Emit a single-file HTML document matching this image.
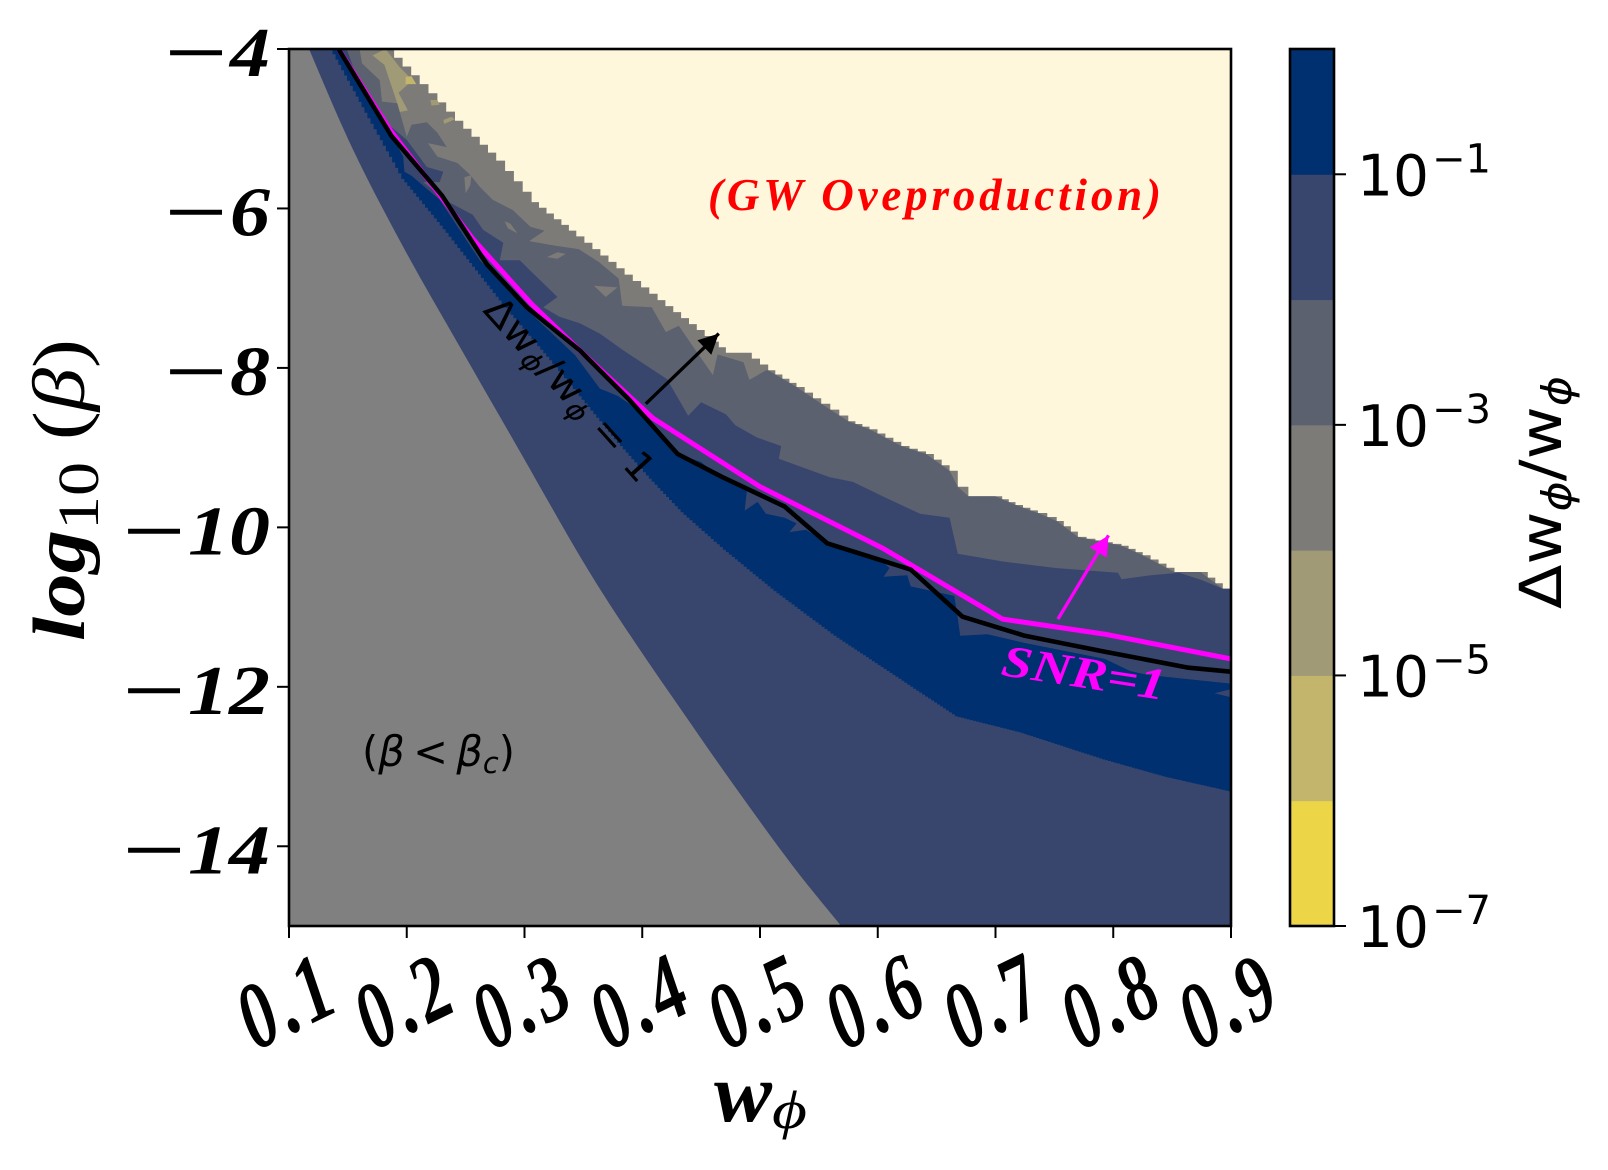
<!DOCTYPE html>
<html lang="en">
<head>
<meta charset="utf-8">
<title>Delta w over w contour chart</title>
<style>
html,body{margin:0;padding:0;background:#fff;}
svg{display:block;}
.cm{font-family:"Liberation Serif",serif;font-style:italic;font-weight:bold;}
.dv{font-family:"DejaVu Sans",sans-serif;}
</style>
</head>
<body>
<svg id="chart" xmlns="http://www.w3.org/2000/svg" width="1608" height="1170" viewBox="0 0 1608 1170">
  <defs><clipPath id="plot-clip"><rect x="289" y="49" width="942" height="877"></rect></clipPath></defs>
  <g id="plot" clip-path="url(#plot-clip)"></g>
  <g id="axes"></g>
  <g id="cbar"></g>

  <text transform="translate(84,641) rotate(-90)" font-size="74" textLength="302" lengthAdjust="spacingAndGlyphs" font-family="Liberation Serif, serif"><tspan font-style="italic" font-weight="bold">log</tspan><tspan font-size="58" dy="14">10</tspan><tspan dy="-14"> (</tspan><tspan font-style="italic">β</tspan><tspan>)</tspan></text>

  <text x="714" y="1121" font-size="84" class="cm" textLength="58" lengthAdjust="spacingAndGlyphs">w</text>
  <text x="772" y="1128" font-size="54" font-style="italic" font-family="Liberation Serif, serif" textLength="35" lengthAdjust="spacingAndGlyphs">ϕ</text>

  <text x="708" y="210" font-size="45" fill="#ff0000" class="cm" textLength="453" lengthAdjust="spacing">(GW Oveproduction)</text>
  <text x="362" y="766" font-size="42" class="dv" fill="#000" textLength="153" lengthAdjust="spacingAndGlyphs">(<tspan font-style="italic">β</tspan>&#8201;&lt;&#8201;<tspan font-style="italic">β</tspan><tspan font-style="italic" font-size="29" dy="7">c</tspan><tspan dy="-7">)</tspan></text>
  <text transform="translate(1000,675) rotate(8.7)" font-size="45" fill="#ff00ff" class="cm" textLength="165" lengthAdjust="spacingAndGlyphs">SNR=1</text>
  <text transform="translate(482,311) rotate(48)" font-size="38" class="dv" fill="#000" textLength="234" lengthAdjust="spacingAndGlyphs">Δw<tspan font-style="italic" font-size="27" dy="6">ϕ</tspan><tspan dy="-6">/w</tspan><tspan font-style="italic" font-size="27" dy="6">ϕ</tspan><tspan dy="-6"> = 1</tspan></text>
  <text transform="translate(1561,609) rotate(-90)" font-size="58" class="dv" fill="#000" textLength="233" lengthAdjust="spacingAndGlyphs">Δw<tspan font-style="italic" font-size="41" dy="10">ϕ</tspan><tspan dy="-10">/w</tspan><tspan font-style="italic" font-size="41" dy="10">ϕ</tspan></text>
</svg>

<script>
// ---- axis data ----
const xTicks = [0.1, 0.2, 0.3, 0.4, 0.5, 0.6, 0.7, 0.8, 0.9];
const xTickLabels = ["0.1", "0.2", "0.3", "0.4", "0.5", "0.6", "0.7", "0.8", "0.9"];
const yTicks = [-4, -6, -8, -10, -12, -14];
const yTickLabels = ["−4", "−6", "−8", "−10", "−12", "−14"];
const cbarExponents = [-7, -6, -5, -4, -3, -2, -1, 0];
const cbarColors = ["#ecd648", "#c4b56c", "#a19a76", "#7c7b78", "#5c6170", "#38466e", "#00306f"];
const cbarTicks = [-7, -5, -3, -1];

// ---- contour edges: [w, log10 beta] ----
const gwEdge = [[0.182,-4],[0.211,-4.44],[0.241,-4.9],[0.276,-5.4],[0.306,-5.92],[0.344,-6.35],[0.385,-6.83],[0.413,-7.15],[0.453,-7.6],[0.471,-7.81],[0.486,-7.81],[0.507,-8.03],[0.531,-8.24],[0.552,-8.45],[0.575,-8.67],[0.593,-8.77],[0.62,-8.98],[0.641,-9.08],[0.661,-9.29],[0.668,-9.49],[0.677,-9.61],[0.7,-9.61],[0.717,-9.72],[0.736,-9.82],[0.752,-9.92],[0.77,-10.12],[0.807,-10.23],[0.825,-10.35],[0.852,-10.56],[0.874,-10.56],[0.893,-10.77],[0.9,-10.77]];
const level3Edge = [[0.16,-4],[0.162,-4.18],[0.177,-4.39],[0.179,-4.66],[0.192,-4.68],[0.196,-4.89],[0.2,-5.1],[0.204,-4.95],[0.217,-4.92],[0.226,-5.05],[0.234,-5.23],[0.218,-5.18],[0.226,-5.35],[0.243,-5.43],[0.254,-5.58],[0.262,-5.73],[0.273,-5.89],[0.29,-6.02],[0.305,-6.23],[0.317,-6.28],[0.304,-6.41],[0.327,-6.47],[0.346,-6.51],[0.363,-6.67],[0.38,-6.88],[0.383,-7.22],[0.408,-7.24],[0.42,-7.55],[0.431,-7.47],[0.443,-7.73],[0.46,-8.09],[0.464,-7.83],[0.486,-7.93],[0.491,-8.15],[0.505,-8.03]];
const level2Edge = [[0.149,-4],[0.156,-4.29],[0.166,-4.55],[0.183,-4.93],[0.2,-5.14],[0.217,-5.48],[0.231,-5.54],[0.228,-5.67],[0.214,-5.67],[0.237,-5.93],[0.256,-6.08],[0.265,-6.27],[0.282,-6.43],[0.279,-6.65],[0.296,-6.65],[0.307,-6.81],[0.328,-7.11],[0.316,-7.24],[0.33,-7.36],[0.347,-7.44],[0.364,-7.57],[0.384,-7.78],[0.421,-8.14],[0.439,-8.6],[0.45,-8.43],[0.471,-8.58],[0.479,-8.72],[0.497,-8.87],[0.518,-8.98],[0.516,-9.14],[0.559,-9.37],[0.579,-9.43],[0.607,-9.63],[0.636,-9.83],[0.661,-9.88],[0.668,-10.33],[0.707,-10.43],[0.751,-10.51],[0.804,-10.57],[0.807,-10.65],[0.832,-10.6],[0.856,-10.57],[0.875,-10.66],[0.893,-10.77],[0.9,-10.77]];
const level1Edge = [[0.143,-4],[0.185,-5.02],[0.197,-5.35],[0.198,-5.54],[0.204,-5.59],[0.228,-5.89],[0.262,-6.65],[0.302,-7.27],[0.343,-7.84],[0.364,-8.26],[0.379,-8.35],[0.389,-8.45],[0.407,-8.67],[0.43,-9.08],[0.45,-9.18],[0.459,-9.29],[0.489,-9.52],[0.487,-9.79],[0.498,-9.68],[0.505,-9.83],[0.521,-9.88],[0.531,-9.95],[0.525,-10.06],[0.539,-10.03],[0.557,-10.2],[0.604,-10.43],[0.61,-10.51],[0.605,-10.62],[0.625,-10.6],[0.628,-10.74],[0.665,-10.86],[0.668,-11.14],[0.67,-11.36],[0.693,-11.34],[0.725,-11.45],[0.793,-11.65],[0.814,-11.8],[0.829,-11.85],[0.9,-11.96]];
const navyLowerEdge = [[0.137,-4],[0.164,-4.73],[0.198,-5.63],[0.233,-6.26],[0.268,-6.92],[0.283,-7.2],[0.321,-7.86],[0.381,-8.94],[0.408,-9.39],[0.435,-9.81],[0.471,-10.28],[0.514,-10.8],[0.565,-11.36],[0.615,-11.85],[0.668,-12.37],[0.722,-12.57],[0.793,-12.91],[0.846,-13.13],[0.9,-13.31]];
const criticalEdge = [[0.117,-4],[0.154,-5.25],[0.198,-6.51],[0.246,-7.76],[0.295,-9.02],[0.349,-10.41],[0.39,-11.36],[0.435,-12.33],[0.48,-13.28],[0.528,-14.25],[0.569,-15]];

// ---- small contour islands ----
const tanPatchA = [[0.171,-4.08],[0.182,-4],[0.194,-4.23],[0.205,-4.39],[0.193,-4.55],[0.201,-4.77],[0.194,-4.79],[0.191,-4.64],[0.184,-4.33],[0.181,-4.2]];
const tanPatchB = [[0.22,-4.64],[0.226,-4.64],[0.228,-4.7],[0.221,-4.71]];
const tanPatchC = [[0.231,-4.89],[0.238,-4.85],[0.241,-4.88],[0.232,-4.94]];
const khakiPatch = [[0.199,-4.35],[0.204,-4.34],[0.208,-4.44],[0.199,-4.44]];
const greyIslandA = [[0.319,-6.61],[0.328,-6.55],[0.335,-6.57],[0.328,-6.63]];
const greyIslandB = [[0.249,-5.61],[0.255,-5.58],[0.254,-5.71],[0.25,-5.81]];
const greyIslandC = [[0.283,-6.16],[0.288,-6.19],[0.294,-6.31],[0.286,-6.25]];
const greyIslandD = [[0.359,-6.97],[0.379,-6.99],[0.369,-7.11]];
const navyIsland = [[0.886,-12.08],[0.9,-12.03],[0.9,-12.13]];

// ---- lines ----
const deltaWLine = [[0.142,-4],[0.187,-5.09],[0.23,-5.84],[0.268,-6.7],[0.302,-7.24],[0.347,-7.78],[0.389,-8.4],[0.43,-9.08],[0.468,-9.37],[0.521,-9.74],[0.557,-10.2],[0.628,-10.53],[0.672,-11.12],[0.725,-11.36],[0.793,-11.56],[0.864,-11.76],[0.9,-11.81]];
const snrLine = [[0.142,-4],[0.186,-5.02],[0.228,-5.83],[0.256,-6.38],[0.306,-7.2],[0.347,-7.78],[0.409,-8.63],[0.5,-9.49],[0.604,-10.26],[0.706,-11.15],[0.793,-11.34],[0.9,-11.65]];
const blackArrow = [[0.403,-8.45],[0.465,-7.57]];
const magentaArrow = [[0.753,-11.15],[0.796,-10.1]];

// ---- scales ----
const PL = 289, PR = 1231, PT = 49, PB = 926;
const CL = 1290, CR = 1334;
function x(w) { return PL + (w - 0.1) / 0.8 * (PR - PL); }
function y(b) { return PT + (-4 - b) / 11 * (PB - PT); }
function cy(e) { return PT + (0 - e) / 7 * (PB - PT); }

const NS = 'http://www.w3.org/2000/svg';
function mk(tag, attrs, parent) {
  const n = document.createElementNS(NS, tag);
  for (const k in attrs) n.setAttribute(k, attrs[k]);
  parent.appendChild(n);
  return n;
}
function line(pts) {
  return pts.map(function (p, i) { return (i ? 'L' : 'M') + x(p[0]).toFixed(1) + ' ' + y(p[1]).toFixed(1); }).join(' ');
}
function smooth(pts) {
  const q = pts.map(function (p) { return [x(p[0]), y(p[1])]; });
  let d = 'M' + q[0][0].toFixed(1) + ' ' + q[0][1].toFixed(1);
  for (let i = 0; i < q.length - 1; i++) {
    const a = q[Math.max(0, i - 1)], b = q[i], c = q[i + 1], e = q[Math.min(q.length - 1, i + 2)];
    d += ' C' + (b[0] + (c[0] - a[0]) / 6).toFixed(1) + ' ' + (b[1] + (c[1] - a[1]) / 6).toFixed(1) + ' ' +
         (c[0] - (e[0] - b[0]) / 6).toFixed(1) + ' ' + (c[1] - (e[1] - b[1]) / 6).toFixed(1) + ' ' +
         c[0].toFixed(1) + ' ' + c[1].toFixed(1);
  }
  return d;
}
function stair(pts, stepPx) {
  let d = 'M' + x(pts[0][0]).toFixed(1) + ' ' + y(pts[0][1]).toFixed(1);
  for (let i = 1; i < pts.length; i++) {
    const x0 = x(pts[i - 1][0]), y0 = y(pts[i - 1][1]), x1 = x(pts[i][0]), y1 = y(pts[i][1]);
    const n = Math.max(1, Math.round((x1 - x0) / stepPx));
    for (let j = 1; j <= n; j++) {
      d += ' L' + (x0 + (x1 - x0) * j / n).toFixed(1) + ' ' + (y0 + (y1 - y0) * (j - 1) / n).toFixed(1);
      d += ' L' + (x0 + (x1 - x0) * j / n).toFixed(1) + ' ' + (y0 + (y1 - y0) * j / n).toFixed(1);
    }
  }
  return d;
}
function tail(edge, afterW) {
  return edge.filter(function (p) { return p[0] > afterW; });
}
function cont(pts) {
  return pts.map(function (p) { return ' L' + x(p[0]).toFixed(1) + ' ' + y(p[1]).toFixed(1); }).join('');
}

const plot = document.getElementById('plot');
const axes = document.getElementById('axes');
const cbar = document.getElementById('cbar');

const bgRect = mk('rect', { x: PL, y: PT, width: PR - PL, height: PB - PT, fill: '#fff7dc' }, plot);



const corners = cont([[0.9, -15], [0.1, -15]]);

const bandGrey = mk('path', { d: stair(gwEdge, 8) + corners + ' L' + x(0.1) + ' ' + y(-4) + ' Z', fill: cbarColors[3] }, plot);



const tanA = mk('path', { d: line(tanPatchA) + ' Z', fill: cbarColors[2] }, plot);


const tanB = mk('path', { d: line(tanPatchB) + ' Z', fill: cbarColors[2] }, plot);


const tanC = mk('path', { d: line(tanPatchC) + ' Z', fill: cbarColors[2] }, plot);


const khaki = mk('path', { d: line(khakiPatch) + ' Z', fill: cbarColors[1] }, plot);



const level3Last = level3Edge[level3Edge.length - 1][0];
const bandSlate = mk('path', { d: line(level3Edge) + cont(tail(gwEdge, level3Last)) + corners + ' L' + x(0.1) + ' ' + y(-4) + ' Z', fill: cbarColors[4] }, plot);



const islandA = mk('path', { d: line(greyIslandA) + ' Z', fill: cbarColors[3] }, plot);


const islandB = mk('path', { d: line(greyIslandB) + ' Z', fill: cbarColors[3] }, plot);


const islandC = mk('path', { d: line(greyIslandC) + ' Z', fill: cbarColors[3] }, plot);


const islandD = mk('path', { d: line(greyIslandD) + ' Z', fill: cbarColors[3] }, plot);



const bandBlue = mk('path', { d: line(level2Edge) + corners + ' L' + x(0.1) + ' ' + y(-4) + ' Z', fill: cbarColors[5] }, plot);



const navyPath = line(level1Edge) + ' L' + x(0.9) + ' ' + y(-13.31) + ' ' + stair(navyLowerEdge.slice().reverse(), -3).replace('M', 'L') + ' Z';
const bandNavy = mk('path', { d: navyPath, fill: cbarColors[6] }, plot);



const isleNavy = mk('path', { d: line(navyIsland) + ' Z', fill: cbarColors[5] }, plot);



const belowCritical = mk('path', { d: smooth(criticalEdge) + cont([[0.1, -15], [0.1, -4]]) + ' Z', fill: '#808080' }, plot);



const snrPath = mk('path', { d: line(snrLine), fill: 'none', stroke: '#ff00ff', 'stroke-width': 5, 'stroke-linejoin': 'round' }, plot);



const dwPath = mk('path', { d: line(deltaWLine), fill: 'none', stroke: '#000', 'stroke-width': 4.6, 'stroke-linejoin': 'round' }, plot);



function arrowHead(a, size, width) {
  const x0 = x(a[0][0]), y0 = y(a[0][1]), x1 = x(a[1][0]), y1 = y(a[1][1]);
  const L = Math.hypot(x1 - x0, y1 - y0), ux = (x1 - x0) / L, uy = (y1 - y0) / L;
  const bx = x1 - ux * size, by = y1 - uy * size;
  return 'M' + x1 + ' ' + y1 + ' L' + (bx - uy * width) + ' ' + (by + ux * width) + ' L' + (bx + uy * width) + ' ' + (by - ux * width) + ' Z';
}
const blackShaft = mk('path', { d: line(blackArrow), stroke: '#000', 'stroke-width': 3.3, fill: 'none' }, plot);


const blackHead = mk('path', { d: arrowHead(blackArrow, 20, 10), fill: '#000' }, plot);


const magShaft = mk('path', { d: line(magentaArrow), stroke: '#ff00ff', 'stroke-width': 3.3, fill: 'none' }, plot);


const magHead = mk('path', { d: arrowHead(magentaArrow, 20, 10), fill: '#ff00ff' }, plot);



// axes frame
const frame = mk('rect', { x: PL, y: PT, width: PR - PL, height: PB - PT, fill: 'none', stroke: '#000', 'stroke-width': 2.6 }, axes);



xTicks.forEach(function (t, i) {
  const tick = mk('line', { x1: x(t), x2: x(t), y1: PB, y2: PB + 12, stroke: '#000', 'stroke-width': 2 }, axes);
  
  
  const label = mk('text', { transform: 'translate(' + (x(t) + 12) + ',1029) rotate(-26) scale(0.85,1.18)', 'font-size': 80, 'letter-spacing': 6, 'text-anchor': 'middle', class: 'cm' }, axes);
  
  
  label.textContent = xTickLabels[i];
});

yTicks.forEach(function (t, i) {
  const tick = mk('line', { x1: PL - 12, x2: PL, y1: y(t), y2: y(t), stroke: '#000', 'stroke-width': 2 }, axes);
  
  
  const digits = yTickLabels[i].slice(1);
  const w = digits.length === 1 ? 40 : 82;
  const label = mk('text', { x: 270 - w, y: y(t) + 27, 'font-size': 70, textLength: w, lengthAdjust: 'spacingAndGlyphs', class: 'cm' }, axes);
  
  
  label.textContent = digits;
  const minus = mk('text', { x: 270 - w - 64, y: y(t) + 27, 'font-size': 70, textLength: 60, lengthAdjust: 'spacingAndGlyphs', stroke: '#000', 'stroke-width': 1.6, 'font-family': 'Liberation Serif, serif' }, axes);
  
  
  minus.textContent = yTickLabels[i].charAt(0);
});

// colorbar
cbarColors.forEach(function (c, i) {
  const seg = mk('rect', { x: CL, y: cy(cbarExponents[i + 1]), width: CR - CL, height: cy(cbarExponents[i]) - cy(cbarExponents[i + 1]) + 0.5, fill: c }, cbar);
  
  
});
const cbarFrame = mk('rect', { x: CL, y: PT, width: CR - CL, height: PB - PT, fill: 'none', stroke: '#000', 'stroke-width': 2.6 }, cbar);



cbarTicks.forEach(function (e) {
  const tick = mk('line', { x1: CR, x2: CR + 12, y1: cy(e), y2: cy(e), stroke: '#000', 'stroke-width': 2 }, cbar);
  
  
  const label = mk('text', { x: 1357, y: cy(e) + 21, 'font-size': 57, class: 'dv', textLength: 72, lengthAdjust: 'spacingAndGlyphs' }, cbar);
  
  
  label.textContent = '10';
  const sup = mk('text', { x: 1432, y: cy(e) - 2, 'font-size': 40, class: 'dv', textLength: 59, lengthAdjust: 'spacingAndGlyphs' }, cbar);
  
  
  sup.textContent = '−' + Math.abs(e);
});
</script>
</body>
</html>
